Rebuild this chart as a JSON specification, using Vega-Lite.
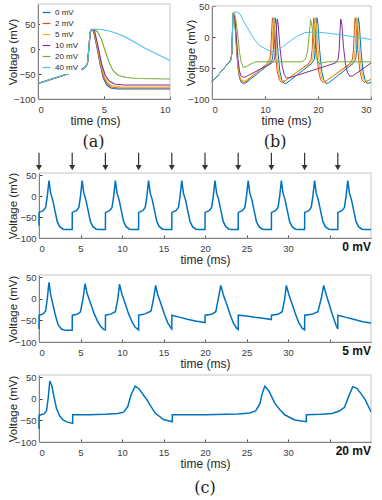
{
"$schema":"https://vega.github.io/schema/vega-lite/v6.json",
"width":382,"height":500,"autosize":"none","padding":0,
"config":{"view":{"stroke":null},"font":"Liberation Sans",
 "axis":{"labelFontSize":9.5,"labelColor":"#404040","titleFontSize":12,"titleFontWeight":"normal","titleColor":"#262626","domainColor":"#404040","tickColor":"#404040","tickSize":-3,"labelPadding":8,"grid":false,"zindex":1,"titlePadding":2,"labelFont":"Liberation Sans","titleFont":"Liberation Sans"},
 "axisY":{"titleFontSize":11.5,"labelPadding":6}},
"datasets":{
"a":[
{"s":"0 mV","t":0,"v":-69},{"s":"0 mV","t":1,"v":-60.5},{"s":"0 mV","t":2,"v":-52},{"s":"0 mV","t":3,"v":-43.5},{"s":"0 mV","t":3.4,"v":-40},{"s":"0 mV","t":3.6,"v":-36},{"s":"0 mV","t":3.75,"v":-28},{"s":"0 mV","t":3.85,"v":0},{"s":"0 mV","t":3.95,"v":33},{"s":"0 mV","t":4.05,"v":39},{"s":"0 mV","t":4.2,"v":36},{"s":"0 mV","t":4.45,"v":5},{"s":"0 mV","t":4.7,"v":-30},{"s":"0 mV","t":4.95,"v":-58},{"s":"0 mV","t":5.2,"v":-72},{"s":"0 mV","t":5.5,"v":-78},{"s":"0 mV","t":6,"v":-80},{"s":"0 mV","t":10,"v":-80},
{"s":"2 mV","t":0,"v":-69},{"s":"2 mV","t":1,"v":-60.5},{"s":"2 mV","t":2,"v":-52},{"s":"2 mV","t":3,"v":-43.5},{"s":"2 mV","t":3.4,"v":-40},{"s":"2 mV","t":3.6,"v":-36},{"s":"2 mV","t":3.75,"v":-28},{"s":"2 mV","t":3.85,"v":0},{"s":"2 mV","t":3.95,"v":33},{"s":"2 mV","t":4.05,"v":39},{"s":"2 mV","t":4.22,"v":36},{"s":"2 mV","t":4.48,"v":5},{"s":"2 mV","t":4.73,"v":-30},{"s":"2 mV","t":4.98,"v":-57},{"s":"2 mV","t":5.25,"v":-70},{"s":"2 mV","t":5.55,"v":-76},{"s":"2 mV","t":6.1,"v":-78},{"s":"2 mV","t":10,"v":-78},
{"s":"5 mV","t":0,"v":-69},{"s":"5 mV","t":1,"v":-60.5},{"s":"5 mV","t":2,"v":-52},{"s":"5 mV","t":3,"v":-43.5},{"s":"5 mV","t":3.4,"v":-40},{"s":"5 mV","t":3.6,"v":-36},{"s":"5 mV","t":3.75,"v":-28},{"s":"5 mV","t":3.85,"v":0},{"s":"5 mV","t":3.95,"v":33},{"s":"5 mV","t":4.05,"v":39},{"s":"5 mV","t":4.25,"v":36},{"s":"5 mV","t":4.5,"v":5},{"s":"5 mV","t":4.76,"v":-30},{"s":"5 mV","t":5.02,"v":-55},{"s":"5 mV","t":5.3,"v":-68},{"s":"5 mV","t":5.6,"v":-73},{"s":"5 mV","t":6.2,"v":-75.5},{"s":"5 mV","t":10,"v":-76},
{"s":"10 mV","t":0,"v":-69},{"s":"10 mV","t":1,"v":-60.5},{"s":"10 mV","t":2,"v":-52},{"s":"10 mV","t":3,"v":-43.5},{"s":"10 mV","t":3.4,"v":-40},{"s":"10 mV","t":3.6,"v":-36},{"s":"10 mV","t":3.75,"v":-28},{"s":"10 mV","t":3.85,"v":0},{"s":"10 mV","t":3.95,"v":33},{"s":"10 mV","t":4.05,"v":39},{"s":"10 mV","t":4.28,"v":37},{"s":"10 mV","t":4.55,"v":5},{"s":"10 mV","t":4.82,"v":-30},{"s":"10 mV","t":5.1,"v":-53},{"s":"10 mV","t":5.4,"v":-64},{"s":"10 mV","t":5.8,"v":-70},{"s":"10 mV","t":6.5,"v":-72},{"s":"10 mV","t":10,"v":-72},
{"s":"20 mV","t":0,"v":-69},{"s":"20 mV","t":1,"v":-60.5},{"s":"20 mV","t":2,"v":-52},{"s":"20 mV","t":3,"v":-43.5},{"s":"20 mV","t":3.4,"v":-40},{"s":"20 mV","t":3.6,"v":-36},{"s":"20 mV","t":3.75,"v":-28},{"s":"20 mV","t":3.85,"v":0},{"s":"20 mV","t":3.95,"v":33},{"s":"20 mV","t":4.05,"v":39},{"s":"20 mV","t":4.25,"v":39},{"s":"20 mV","t":4.5,"v":35},{"s":"20 mV","t":4.8,"v":20},{"s":"20 mV","t":5.1,"v":-5},{"s":"20 mV","t":5.4,"v":-28},{"s":"20 mV","t":5.7,"v":-44},{"s":"20 mV","t":6.1,"v":-53},{"s":"20 mV","t":6.7,"v":-57},{"s":"20 mV","t":7.5,"v":-59},{"s":"20 mV","t":10,"v":-60},
{"s":"40 mV","t":0,"v":-69},{"s":"40 mV","t":1,"v":-60.5},{"s":"40 mV","t":2,"v":-52},{"s":"40 mV","t":3,"v":-43.5},{"s":"40 mV","t":3.4,"v":-40},{"s":"40 mV","t":3.6,"v":-36},{"s":"40 mV","t":3.75,"v":-28},{"s":"40 mV","t":3.85,"v":0},{"s":"40 mV","t":3.95,"v":33},{"s":"40 mV","t":4.05,"v":39},{"s":"40 mV","t":4.3,"v":40},{"s":"40 mV","t":4.8,"v":39},{"s":"40 mV","t":5.4,"v":36},{"s":"40 mV","t":6,"v":31},{"s":"40 mV","t":6.7,"v":23},{"s":"40 mV","t":7.3,"v":14},{"s":"40 mV","t":8,"v":3},{"s":"40 mV","t":9,"v":-10},{"s":"40 mV","t":10,"v":-23}
],
"b":[
{"s":"0 mV","t":0,"v":-72},{"s":"0 mV","t":1,"v":-63},{"s":"0 mV","t":2,"v":-53},{"s":"0 mV","t":3,"v":-43},{"s":"0 mV","t":3.4,"v":-39},{"s":"0 mV","t":3.6,"v":-35},{"s":"0 mV","t":3.75,"v":-25},{"s":"0 mV","t":3.85,"v":5},{"s":"0 mV","t":3.95,"v":35},{"s":"0 mV","t":4.05,"v":39},
{"s":"0 mV","t":4.3,"v":25},{"s":"0 mV","t":4.6,"v":-15},{"s":"0 mV","t":4.9,"v":-50},{"s":"0 mV","t":5.2,"v":-66},{"s":"0 mV","t":5.5,"v":-73},{"s":"0 mV","t":5.9,"v":-75},{"s":"0 mV","t":6.4,"v":-74},{"s":"0 mV","t":10.9,"v":-43},{"s":"0 mV","t":11.4,"v":-36},{"s":"0 mV","t":11.6,"v":-20},{"s":"0 mV","t":11.75,"v":10},{"s":"0 mV","t":11.9,"v":31},{"s":"0 mV","t":12.1,"v":20},{"s":"0 mV","t":12.4,"v":-20},{"s":"0 mV","t":12.8,"v":-55},{"s":"0 mV","t":13.2,"v":-70},{"s":"0 mV","t":13.6,"v":-75},{"s":"0 mV","t":14.1,"v":-74},{"s":"0 mV","t":18.8,"v":-43},{"s":"0 mV","t":19.3,"v":-36},{"s":"0 mV","t":19.5,"v":-20},{"s":"0 mV","t":19.65,"v":10},{"s":"0 mV","t":19.8,"v":31},{"s":"0 mV","t":20,"v":20},{"s":"0 mV","t":20.3,"v":-20},{"s":"0 mV","t":20.7,"v":-55},{"s":"0 mV","t":21.1,"v":-70},{"s":"0 mV","t":21.5,"v":-75},{"s":"0 mV","t":22,"v":-74},{"s":"0 mV","t":26.6,"v":-43},{"s":"0 mV","t":27.1,"v":-36},{"s":"0 mV","t":27.3,"v":-20},{"s":"0 mV","t":27.45,"v":10},{"s":"0 mV","t":27.6,"v":31},{"s":"0 mV","t":27.8,"v":20},{"s":"0 mV","t":28.1,"v":-20},{"s":"0 mV","t":28.5,"v":-55},{"s":"0 mV","t":28.9,"v":-70},{"s":"0 mV","t":29.3,"v":-75},{"s":"0 mV","t":29.8,"v":-74},{"s":"0 mV","t":30,"v":-73},
{"s":"2 mV","t":0,"v":-72},{"s":"2 mV","t":1,"v":-63},{"s":"2 mV","t":2,"v":-53},{"s":"2 mV","t":3,"v":-43},{"s":"2 mV","t":3.4,"v":-39},{"s":"2 mV","t":3.6,"v":-35},{"s":"2 mV","t":3.75,"v":-25},{"s":"2 mV","t":3.85,"v":5},{"s":"2 mV","t":3.95,"v":35},{"s":"2 mV","t":4.05,"v":39},
{"s":"2 mV","t":4.3,"v":26},{"s":"2 mV","t":4.6,"v":-12},{"s":"2 mV","t":4.9,"v":-47},{"s":"2 mV","t":5.2,"v":-64},{"s":"2 mV","t":5.5,"v":-71},{"s":"2 mV","t":5.9,"v":-73},{"s":"2 mV","t":6.4,"v":-72},{"s":"2 mV","t":10.4,"v":-43},{"s":"2 mV","t":10.9,"v":-36},{"s":"2 mV","t":11.1,"v":-20},{"s":"2 mV","t":11.25,"v":10},{"s":"2 mV","t":11.4,"v":31},{"s":"2 mV","t":11.6,"v":20},{"s":"2 mV","t":11.9,"v":-20},{"s":"2 mV","t":12.3,"v":-55},{"s":"2 mV","t":12.7,"v":-69},{"s":"2 mV","t":13.1,"v":-73},{"s":"2 mV","t":13.6,"v":-72},{"s":"2 mV","t":18.2,"v":-43},{"s":"2 mV","t":18.7,"v":-36},{"s":"2 mV","t":18.9,"v":-20},{"s":"2 mV","t":19.05,"v":10},{"s":"2 mV","t":19.2,"v":31},{"s":"2 mV","t":19.4,"v":20},{"s":"2 mV","t":19.7,"v":-20},{"s":"2 mV","t":20.1,"v":-55},{"s":"2 mV","t":20.5,"v":-69},{"s":"2 mV","t":20.9,"v":-73},{"s":"2 mV","t":21.4,"v":-72},{"s":"2 mV","t":26,"v":-43},{"s":"2 mV","t":26.5,"v":-36},{"s":"2 mV","t":26.7,"v":-20},{"s":"2 mV","t":26.85,"v":10},{"s":"2 mV","t":27,"v":31},{"s":"2 mV","t":27.2,"v":20},{"s":"2 mV","t":27.5,"v":-20},{"s":"2 mV","t":27.9,"v":-55},{"s":"2 mV","t":28.3,"v":-69},{"s":"2 mV","t":28.7,"v":-73},{"s":"2 mV","t":29.2,"v":-72},{"s":"2 mV","t":30,"v":-68},
{"s":"5 mV","t":0,"v":-72},{"s":"5 mV","t":1,"v":-63},{"s":"5 mV","t":2,"v":-53},{"s":"5 mV","t":3,"v":-43},{"s":"5 mV","t":3.4,"v":-39},{"s":"5 mV","t":3.6,"v":-35},{"s":"5 mV","t":3.75,"v":-25},{"s":"5 mV","t":3.85,"v":5},{"s":"5 mV","t":3.95,"v":35},{"s":"5 mV","t":4.05,"v":39},
{"s":"5 mV","t":4.3,"v":27},{"s":"5 mV","t":4.6,"v":-10},{"s":"5 mV","t":4.9,"v":-45},{"s":"5 mV","t":5.2,"v":-62},{"s":"5 mV","t":5.5,"v":-69},{"s":"5 mV","t":5.9,"v":-71},{"s":"5 mV","t":6.4,"v":-70},{"s":"5 mV","t":10.6,"v":-43},{"s":"5 mV","t":11.1,"v":-36},{"s":"5 mV","t":11.3,"v":-20},{"s":"5 mV","t":11.45,"v":10},{"s":"5 mV","t":11.6,"v":31},{"s":"5 mV","t":11.8,"v":20},{"s":"5 mV","t":12.1,"v":-20},{"s":"5 mV","t":12.5,"v":-55},{"s":"5 mV","t":12.9,"v":-68},{"s":"5 mV","t":13.3,"v":-71},{"s":"5 mV","t":13.8,"v":-70},{"s":"5 mV","t":18.5,"v":-43},{"s":"5 mV","t":19,"v":-36},{"s":"5 mV","t":19.2,"v":-20},{"s":"5 mV","t":19.35,"v":10},{"s":"5 mV","t":19.5,"v":31},{"s":"5 mV","t":19.7,"v":20},{"s":"5 mV","t":20,"v":-20},{"s":"5 mV","t":20.4,"v":-55},{"s":"5 mV","t":20.8,"v":-68},{"s":"5 mV","t":21.2,"v":-71},{"s":"5 mV","t":21.7,"v":-70},{"s":"5 mV","t":26.3,"v":-43},{"s":"5 mV","t":26.8,"v":-36},{"s":"5 mV","t":27,"v":-20},{"s":"5 mV","t":27.15,"v":10},{"s":"5 mV","t":27.3,"v":31},{"s":"5 mV","t":27.5,"v":20},{"s":"5 mV","t":27.8,"v":-20},{"s":"5 mV","t":28.2,"v":-55},{"s":"5 mV","t":28.6,"v":-68},{"s":"5 mV","t":29,"v":-71},{"s":"5 mV","t":29.5,"v":-70},{"s":"5 mV","t":30,"v":-68},
{"s":"10 mV","t":0,"v":-72},{"s":"10 mV","t":1,"v":-63},{"s":"10 mV","t":2,"v":-53},{"s":"10 mV","t":3,"v":-43},{"s":"10 mV","t":3.4,"v":-39},{"s":"10 mV","t":3.6,"v":-35},{"s":"10 mV","t":3.75,"v":-25},{"s":"10 mV","t":3.85,"v":5},{"s":"10 mV","t":3.95,"v":35},{"s":"10 mV","t":4.05,"v":39},
{"s":"10 mV","t":4.3,"v":30},{"s":"10 mV","t":4.6,"v":0},{"s":"10 mV","t":4.9,"v":-35},{"s":"10 mV","t":5.2,"v":-55},{"s":"10 mV","t":5.5,"v":-63},{"s":"10 mV","t":5.9,"v":-65},{"s":"10 mV","t":6.4,"v":-64},{"s":"10 mV","t":11.3,"v":-42},{"s":"10 mV","t":11.8,"v":-36},{"s":"10 mV","t":12,"v":-20},{"s":"10 mV","t":12.15,"v":10},{"s":"10 mV","t":12.3,"v":29},{"s":"10 mV","t":12.5,"v":20},{"s":"10 mV","t":12.8,"v":-15},{"s":"10 mV","t":13.2,"v":-45},{"s":"10 mV","t":13.6,"v":-60},{"s":"10 mV","t":14,"v":-66},{"s":"10 mV","t":14.5,"v":-66},{"s":"10 mV","t":23.3,"v":-42},{"s":"10 mV","t":23.8,"v":-36},{"s":"10 mV","t":24,"v":-20},{"s":"10 mV","t":24.15,"v":10},{"s":"10 mV","t":24.3,"v":29},{"s":"10 mV","t":24.5,"v":20},{"s":"10 mV","t":24.8,"v":-15},{"s":"10 mV","t":25.2,"v":-45},{"s":"10 mV","t":25.6,"v":-58},{"s":"10 mV","t":26,"v":-63},{"s":"10 mV","t":26.5,"v":-63},{"s":"10 mV","t":30,"v":-42},
{"s":"20 mV","t":0,"v":-72},{"s":"20 mV","t":1,"v":-63},{"s":"20 mV","t":2,"v":-53},{"s":"20 mV","t":3,"v":-43},{"s":"20 mV","t":3.4,"v":-39},{"s":"20 mV","t":3.6,"v":-35},{"s":"20 mV","t":3.75,"v":-25},{"s":"20 mV","t":3.85,"v":5},{"s":"20 mV","t":3.95,"v":35},{"s":"20 mV","t":4.05,"v":39},
{"s":"20 mV","t":4.3,"v":36},{"s":"20 mV","t":4.6,"v":22},{"s":"20 mV","t":4.9,"v":0},{"s":"20 mV","t":5.2,"v":-25},{"s":"20 mV","t":5.5,"v":-40},{"s":"20 mV","t":5.9,"v":-49},{"s":"20 mV","t":6.4,"v":-48},{"s":"20 mV","t":7.2,"v":-44},{"s":"20 mV","t":8.3,"v":-40},{"s":"20 mV","t":17,"v":-40},{"s":"20 mV","t":17.6,"v":-36},{"s":"20 mV","t":18,"v":-25},{"s":"20 mV","t":18.3,"v":0},{"s":"20 mV","t":18.6,"v":28},{"s":"20 mV","t":18.9,"v":15},{"s":"20 mV","t":19.3,"v":-15},{"s":"20 mV","t":19.7,"v":-35},{"s":"20 mV","t":20.2,"v":-43},{"s":"20 mV","t":21,"v":-41},{"s":"20 mV","t":22,"v":-40},{"s":"20 mV","t":30,"v":-40},
{"s":"40 mV","t":0,"v":-72},{"s":"40 mV","t":1,"v":-63},{"s":"40 mV","t":2,"v":-53},{"s":"40 mV","t":3,"v":-43},{"s":"40 mV","t":3.4,"v":-39},{"s":"40 mV","t":3.6,"v":-35},{"s":"40 mV","t":3.75,"v":-25},{"s":"40 mV","t":3.85,"v":5},{"s":"40 mV","t":3.95,"v":35},{"s":"40 mV","t":4.05,"v":39},
{"s":"40 mV","t":4.3,"v":40},{"s":"40 mV","t":4.8,"v":40},{"s":"40 mV","t":5.3,"v":37},{"s":"40 mV","t":6,"v":25},{"s":"40 mV","t":7,"v":10},{"s":"40 mV","t":8,"v":-4},{"s":"40 mV","t":9,"v":-14},{"s":"40 mV","t":10.5,"v":-21},{"s":"40 mV","t":12,"v":-24},{"s":"40 mV","t":13,"v":-18},{"s":"40 mV","t":14.5,"v":-8},{"s":"40 mV","t":16,"v":1},{"s":"40 mV","t":17.5,"v":7},{"s":"40 mV","t":19,"v":8},{"s":"40 mV","t":21,"v":7},{"s":"40 mV","t":24,"v":4},{"s":"40 mV","t":27,"v":0},{"s":"40 mV","t":30,"v":-4}
],
"c1":[
{"t":0,"v":-70},{"t":0.01,"v":-39},{"t":0.5,"v":-35},{"t":0.8,"v":-27},{"t":1,"v":0},{"t":1.2,"v":37},{"t":1.4,"v":7},{"t":1.65,"v":-9},{"t":1.9,"v":-33},{"t":2.2,"v":-61},{"t":2.5,"v":-73},{"t":2.9,"v":-79},{"t":3.3,"v":-80},{"t":4,"v":-80},
{"t":4.01,"v":-39},{"t":4.5,"v":-35},{"t":4.8,"v":-27},{"t":5,"v":0},{"t":5.2,"v":37},{"t":5.4,"v":7},{"t":5.65,"v":-9},{"t":5.9,"v":-33},{"t":6.2,"v":-61},{"t":6.5,"v":-73},{"t":6.9,"v":-79},{"t":7.3,"v":-80},{"t":8,"v":-80},
{"t":8.01,"v":-39},{"t":8.5,"v":-35},{"t":8.8,"v":-27},{"t":9,"v":0},{"t":9.2,"v":37},{"t":9.4,"v":7},{"t":9.65,"v":-9},{"t":9.9,"v":-33},{"t":10.2,"v":-61},{"t":10.5,"v":-73},{"t":10.9,"v":-79},{"t":11.3,"v":-80},{"t":12,"v":-80},
{"t":12.01,"v":-39},{"t":12.5,"v":-35},{"t":12.8,"v":-27},{"t":13,"v":0},{"t":13.2,"v":37},{"t":13.4,"v":7},{"t":13.65,"v":-9},{"t":13.9,"v":-33},{"t":14.2,"v":-61},{"t":14.5,"v":-73},{"t":14.9,"v":-79},{"t":15.3,"v":-80},{"t":16,"v":-80},
{"t":16.01,"v":-39},{"t":16.5,"v":-35},{"t":16.8,"v":-27},{"t":17,"v":0},{"t":17.2,"v":37},{"t":17.4,"v":7},{"t":17.65,"v":-9},{"t":17.9,"v":-33},{"t":18.2,"v":-61},{"t":18.5,"v":-73},{"t":18.9,"v":-79},{"t":19.3,"v":-80},{"t":20,"v":-80},
{"t":20.01,"v":-39},{"t":20.5,"v":-35},{"t":20.8,"v":-27},{"t":21,"v":0},{"t":21.2,"v":37},{"t":21.4,"v":7},{"t":21.65,"v":-9},{"t":21.9,"v":-33},{"t":22.2,"v":-61},{"t":22.5,"v":-73},{"t":22.9,"v":-79},{"t":23.3,"v":-80},{"t":24,"v":-80},
{"t":24.01,"v":-39},{"t":24.5,"v":-35},{"t":24.8,"v":-27},{"t":25,"v":0},{"t":25.2,"v":37},{"t":25.4,"v":7},{"t":25.65,"v":-9},{"t":25.9,"v":-33},{"t":26.2,"v":-61},{"t":26.5,"v":-73},{"t":26.9,"v":-79},{"t":27.3,"v":-80},{"t":28,"v":-80},
{"t":28.01,"v":-39},{"t":28.5,"v":-35},{"t":28.8,"v":-27},{"t":29,"v":0},{"t":29.2,"v":37},{"t":29.4,"v":7},{"t":29.65,"v":-9},{"t":29.9,"v":-33},{"t":30.2,"v":-61},{"t":30.5,"v":-73},{"t":30.9,"v":-79},{"t":31.3,"v":-80},{"t":32,"v":-80},
{"t":32.01,"v":-39},{"t":32.5,"v":-35},{"t":32.8,"v":-27},{"t":33,"v":0},{"t":33.2,"v":37},{"t":33.4,"v":7},{"t":33.65,"v":-9},{"t":33.9,"v":-33},{"t":34.2,"v":-61},{"t":34.5,"v":-73},{"t":34.9,"v":-79},{"t":35.3,"v":-80},{"t":36,"v":-80},
{"t":36.01,"v":-39},{"t":36.5,"v":-35},{"t":36.8,"v":-27},{"t":37,"v":0},{"t":37.2,"v":37},{"t":37.4,"v":7},{"t":37.65,"v":-9},{"t":37.9,"v":-33},{"t":38.2,"v":-61},{"t":38.5,"v":-73},{"t":38.9,"v":-79},{"t":39.3,"v":-80},{"t":40,"v":-80}
],
"c2":[
{"t":0,"v":-70},{"t":0.01,"v":-38},{"t":0.5,"v":-35},{"t":0.8,"v":-28},{"t":1,"v":0},{"t":1.2,"v":38},{"t":1.4,"v":10},{"t":1.7,"v":-15},{"t":2,"v":-40},{"t":2.3,"v":-60},{"t":2.7,"v":-70},{"t":3.1,"v":-73},{"t":4,"v":-73},
{"t":4.01,"v":-38},{"t":4.6,"v":-36},{"t":5,"v":-30},{"t":5.3,"v":0},{"t":5.55,"v":35},{"t":5.8,"v":12},{"t":6.2,"v":-10},{"t":6.6,"v":-32},{"t":7,"v":-50},{"t":7.4,"v":-63},{"t":7.8,"v":-71},{"t":8,"v":-72},
{"t":8.01,"v":-38},{"t":8.7,"v":-35},{"t":9.2,"v":-30},{"t":9.5,"v":0},{"t":9.7,"v":34},{"t":10,"v":10},{"t":10.4,"v":-12},{"t":10.8,"v":-35},{"t":11.2,"v":-53},{"t":11.6,"v":-66},{"t":12,"v":-72},
{"t":12.01,"v":-38},{"t":12.8,"v":-35},{"t":13.5,"v":-28},{"t":13.8,"v":0},{"t":14.05,"v":31},{"t":14.3,"v":10},{"t":14.7,"v":-12},{"t":15.1,"v":-35},{"t":15.5,"v":-55},{"t":15.9,"v":-68},{"t":16,"v":-70},
{"t":16.01,"v":-38},{"t":17,"v":-43},{"t":18,"v":-48},{"t":19,"v":-52},{"t":20,"v":-55},
{"t":20.01,"v":-38},{"t":20.8,"v":-36},{"t":21.3,"v":-30},{"t":21.6,"v":0},{"t":21.9,"v":31},{"t":22.2,"v":10},{"t":22.6,"v":-12},{"t":23,"v":-35},{"t":23.4,"v":-55},{"t":23.8,"v":-68},{"t":24,"v":-71},
{"t":24.01,"v":-38},{"t":25,"v":-40},{"t":26,"v":-43},{"t":27,"v":-45},{"t":28,"v":-48},
{"t":28.01,"v":-38},{"t":28.8,"v":-36},{"t":29.3,"v":-30},{"t":29.6,"v":0},{"t":29.8,"v":31},{"t":30.1,"v":10},{"t":30.5,"v":-12},{"t":30.9,"v":-35},{"t":31.3,"v":-55},{"t":31.7,"v":-68},{"t":32,"v":-72},
{"t":32.01,"v":-38},{"t":32.9,"v":-36},{"t":33.6,"v":-30},{"t":34,"v":0},{"t":34.3,"v":31},{"t":34.6,"v":10},{"t":35,"v":-15},{"t":35.4,"v":-40},{"t":35.8,"v":-62},{"t":36,"v":-70},
{"t":36.01,"v":-38},{"t":37,"v":-43},{"t":38,"v":-48},{"t":39,"v":-53},{"t":40,"v":-56}
],
"c3":[
{"t":0,"v":-70},{"t":0.01,"v":-38},{"t":0.6,"v":-35},{"t":0.9,"v":-28},{"t":1.1,"v":0},{"t":1.3,"v":41},{"t":1.55,"v":30},{"t":1.8,"v":5},{"t":2.1,"v":-22},{"t":2.5,"v":-40},{"t":2.9,"v":-49},{"t":3.4,"v":-54},{"t":4.05,"v":-57},
{"t":4.06,"v":-37},{"t":6,"v":-37},{"t":8,"v":-36},{"t":9.5,"v":-34},{"t":10.2,"v":-31},{"t":10.7,"v":-18},{"t":11.1,"v":10},{"t":11.6,"v":29},{"t":12.1,"v":22},{"t":12.6,"v":8},{"t":13,"v":-2},{"t":13.5,"v":-18},{"t":14,"v":-33},{"t":15,"v":-48},{"t":16.05,"v":-53},
{"t":16.06,"v":-37},{"t":20,"v":-37},{"t":24,"v":-35},{"t":25.4,"v":-33},{"t":26.1,"v":-28},{"t":26.6,"v":-12},{"t":26.9,"v":12},{"t":27.2,"v":29},{"t":27.7,"v":18},{"t":28.4,"v":-10},{"t":29,"v":-25},{"t":29.6,"v":-37},{"t":30.8,"v":-49},{"t":32.2,"v":-53},
{"t":32.21,"v":-37},{"t":34,"v":-36},{"t":35.3,"v":-34},{"t":36.1,"v":-29},{"t":36.8,"v":-20},{"t":37.3,"v":5},{"t":37.8,"v":28},{"t":38.3,"v":24},{"t":38.8,"v":12},{"t":39.3,"v":-2},{"t":40,"v":-30}
],
"stim":[{"t":0},{"t":4},{"t":8},{"t":12},{"t":16},{"t":20},{"t":24},{"t":28},{"t":32},{"t":36}],
"one":[{"k":1}]
},
"layer":[
{"layer":[
 {"data":{"name":"one"},"mark":{"type":"rect","fill":null,"stroke":"#c4c4c4","strokeWidth":1},"encoding":{"x":{"datum":0},"x2":{"datum":10},"y":{"datum":-100},"y2":{"datum":90}}},
 {"data":{"name":"a"},"mark":{"type":"line","strokeWidth":1.1},"encoding":{
  "x":{"field":"t","type":"quantitative","scale":{"domain":[0,10],"range":[38,170],"nice":false,"zero":false},"axis":{"orient":"bottom","offset":-401,"values":[0,5,10],"title":"time (ms)","titleX":95}},
  "y":{"field":"v","type":"quantitative","scale":{"domain":[-100,90],"range":[99,4],"nice":false,"zero":false},"axis":{"orient":"left","offset":-38,"values":[-100,-50,0,50],"title":"Voltage (mV)","titleX":-20}},
  "color":{"field":"s","type":"nominal","sort":null,"scale":{"domain":["0 mV","2 mV","5 mV","10 mV","20 mV","40 mV"],"range":["#0072BD","#D95319","#EDB120","#7E2F8E","#77AC30","#4DBEEE"]},
   "legend":{"title":null,"orient":"none","legendX":40,"legendY":6,"symbolType":"stroke","symbolSize":60,"symbolStrokeWidth":1.2,"labelFontSize":8,"labelColor":"#262626","rowPadding":2,"fillColor":"white","padding":2}}}},
 {"data":{"name":"one"},"mark":{"type":"text","font":"DejaVu Serif","fontSize":16,"baseline":"middle","color":"#222"},"encoding":{"x":{"datum":4.2},"y":{"datum":-186},"text":{"value":"(a)"}}}
]},
{"layer":[
 {"data":{"name":"one"},"mark":{"type":"rect","fill":null,"stroke":"#c4c4c4","strokeWidth":1},"encoding":{"x":{"datum":0},"x2":{"datum":30},"y":{"datum":-100},"y2":{"datum":50}}},
 {"data":{"name":"b"},"mark":{"type":"line","strokeWidth":1},"encoding":{
  "x":{"field":"t","type":"quantitative","scale":{"domain":[0,30],"range":[212,371],"nice":false,"zero":false},"axis":{"orient":"bottom","offset":-401,"values":[0,10,20,30],"title":"time (ms)","titleX":286}},
  "y":{"field":"v","type":"quantitative","scale":{"domain":[-100,50],"range":[99,6],"nice":false,"zero":false},"axis":{"orient":"left","offset":-212,"values":[-100,-50,0,50],"title":"Voltage (mV)","titleX":-16}},
  "color":{"field":"s","type":"nominal","sort":null,"scale":{"domain":["0 mV","2 mV","5 mV","10 mV","20 mV","40 mV"],"range":["#0072BD","#D95319","#EDB120","#7E2F8E","#77AC30","#4DBEEE"]},"legend":null}}},
 {"data":{"name":"one"},"mark":{"type":"text","font":"DejaVu Serif","fontSize":16,"baseline":"middle","color":"#222"},"encoding":{"x":{"datum":11.9},"y":{"datum":-169},"text":{"value":"(b)"}}}
]},
{"layer":[
 {"data":{"name":"one"},"mark":{"type":"rect","fill":null,"stroke":"#c4c4c4","strokeWidth":1},"encoding":{"x":{"datum":0},"x2":{"datum":40},"y":{"datum":-100},"y2":{"datum":55}}},
 {"data":{"name":"c1"},"mark":{"type":"line","strokeWidth":1.5,"color":"#0072BD"},"encoding":{
  "x":{"field":"t","type":"quantitative","scale":{"domain":[0,40],"range":[39,371],"nice":false,"zero":false},"axis":{"orient":"bottom","offset":-262,"values":[0,5,10,15,20,25,30,35],"labelExpr":"datum.value == 35 ? '' : datum.label","title":"time (ms)"}},
  "y":{"field":"v","type":"quantitative","scale":{"domain":[-100,55],"range":[238,173],"nice":false,"zero":false},"axis":{"orient":"left","offset":-39,"values":[-100,-50,0,50],"title":"Voltage (mV)","titleX":-21}}}},
 {"data":{"name":"stim"},"mark":{"type":"rule","color":"#333","strokeWidth":1.2},"encoding":{"x":{"field":"t","type":"quantitative"},"y":{"datum":103},"y2":{"datum":70}}},
 {"data":{"name":"stim"},"mark":{"type":"point","shape":"triangle-down","filled":true,"color":"#333","size":36,"opacity":1},"encoding":{"x":{"field":"t","type":"quantitative"},"y":{"datum":68}}},
 {"data":{"name":"one"},"mark":{"type":"text","align":"right","baseline":"middle","fontWeight":"bold","fontSize":12,"color":"#111"},"encoding":{"x":{"datum":40},"y":{"datum":-121},"text":{"value":"0 mV"}}}
]},
{"layer":[
 {"data":{"name":"one"},"mark":{"type":"rect","fill":null,"stroke":"#c4c4c4","strokeWidth":1},"encoding":{"x":{"datum":0},"x2":{"datum":40},"y":{"datum":-100},"y2":{"datum":55}}},
 {"data":{"name":"c2"},"mark":{"type":"line","strokeWidth":1.5,"color":"#0072BD"},"encoding":{
  "x":{"field":"t","type":"quantitative","scale":{"domain":[0,40],"range":[39,371],"nice":false,"zero":false},"axis":{"orient":"bottom","offset":-158,"values":[0,5,10,15,20,25,30,35],"labelExpr":"datum.value == 35 ? '' : datum.label","title":"time (ms)"}},
  "y":{"field":"v","type":"quantitative","scale":{"domain":[-100,55],"range":[342,275],"nice":false,"zero":false},"axis":{"orient":"left","offset":-39,"values":[-100,-50,0,50],"title":"Voltage (mV)","titleX":-21}}}},
 {"data":{"name":"one"},"mark":{"type":"text","align":"right","baseline":"middle","fontWeight":"bold","fontSize":12,"color":"#111"},"encoding":{"x":{"datum":40},"y":{"datum":-120},"text":{"value":"5 mV"}}}
]},
{"layer":[
 {"data":{"name":"one"},"mark":{"type":"rect","fill":null,"stroke":"#c4c4c4","strokeWidth":1},"encoding":{"x":{"datum":0},"x2":{"datum":40},"y":{"datum":-100},"y2":{"datum":55}}},
 {"data":{"name":"c3"},"mark":{"type":"line","strokeWidth":1.5,"color":"#0072BD"},"encoding":{
  "x":{"field":"t","type":"quantitative","scale":{"domain":[0,40],"range":[39,371],"nice":false,"zero":false},"axis":{"orient":"bottom","offset":-58,"values":[0,5,10,15,20,25,30,35],"labelExpr":"datum.value == 35 ? '' : datum.label","title":"time (ms)"}},
  "y":{"field":"v","type":"quantitative","scale":{"domain":[-100,55],"range":[442,375],"nice":false,"zero":false},"axis":{"orient":"left","offset":-39,"values":[-100,-50,0,50],"title":"Voltage (mV)","titleX":-21}}}},
 {"data":{"name":"one"},"mark":{"type":"text","align":"right","baseline":"middle","fontWeight":"bold","fontSize":12,"color":"#111"},"encoding":{"x":{"datum":40},"y":{"datum":-120},"text":{"value":"20 mV"}}},
 {"data":{"name":"one"},"mark":{"type":"text","font":"DejaVu Serif","fontSize":16,"baseline":"middle","color":"#222"},"encoding":{"x":{"datum":20},"y":{"datum":-206},"text":{"value":"(c)"}}}
]}
],
"resolve":{"scale":{"x":"independent","y":"independent","color":"independent"},"axis":{"x":"independent","y":"independent"},"legend":{"color":"independent"}}
}
